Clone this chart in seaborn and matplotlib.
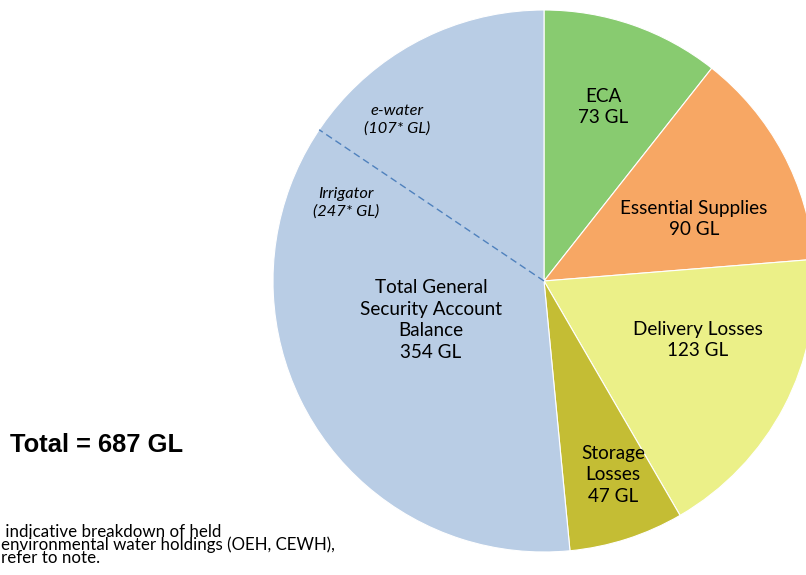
import matplotlib
matplotlib.use("Agg")
import matplotlib.pyplot as plt
import seaborn as sns
import numpy as np

sns.set_theme(style="white")
plt.rcParams['font.family'] = ['Lato', 'DejaVu Sans']
plt.rcParams['text.color'] = 'black'

# ---- data ----
categories = ["ECA", "Essential Supplies", "Delivery Losses", "Storage Losses",
              "Total General Security Account Balance"]
values = [73, 90, 123, 47, 354]
sub_categories = ["Irrigator", "e-water"]
sub_values = [247, 107]
total = 687
colors = ["#88CB70", "#F7A764", "#EBF088", "#C4BD34", "#B9CDE5"]
footnote = [" indicative breakdown of held",
            "environmental water holdings (OEH, CEWH),",
            "refer to note."]

W, H = 806, 575
fig = plt.figure(figsize=(W / 100, H / 100), dpi=100)
ax = fig.add_axes([0, 0, 1, 1])
ax.set_xlim(0, W)
ax.set_ylim(0, H)
ax.set_aspect("equal")
ax.axis("off")

cx, cy, r = 544, H - 281, 271
wedges, _ = ax.pie(values, colors=colors, startangle=90, counterclock=False,
                   center=(cx, cy), radius=r,
                   wedgeprops=dict(edgecolor="white", linewidth=0.8))
ax.set_xlim(0, W)
ax.set_ylim(0, H)

# dashed divider inside general security wedge
ang0 = sum(values[:4]) + sub_values[0]
theta = np.deg2rad(90 - ang0 / total * 360)
ax.plot([cx, cx + r * np.cos(theta)], [cy, cy + r * np.sin(theta)],
        ls=(0, (5, 3)), color="#4F81BD", lw=1.0)

fs = 13.6
def lab(x, y, s, size=fs, style="normal", ls=1.33):
    ax.text(x, H - y, s, ha="center", va="center", fontsize=size,
            style=style, linespacing=ls, color="black")

lab(603, 107, f"{categories[0]}\n{values[0]} GL")
lab(694, 219, f"{categories[1]}\n{values[1]} GL")
lab(698, 340, f"{categories[2]}\n{values[2]} GL")
lab(613, 475, f"Storage\nLosses\n{values[3]} GL")
lab(431, 320, f"Total General\nSecurity Account\nBalance\n{values[4]} GL")
lab(397, 120, f"{sub_categories[1]}\n({sub_values[1]}* GL)", size=11.8, style="italic", ls=1.28)
lab(346, 203, f"{sub_categories[0]}\n({sub_values[0]}* GL)", size=11.8, style="italic", ls=1.28)

ax.text(10, H - 445, f"Total = {total} GL", ha="left", va="center",
        fontsize=18.4, fontweight="bold", color="black",
        family=["Liberation Sans", "DejaVu Sans"])

ax.text(1, H - 545, "\n".join(footnote), ha="left", va="center",
        fontsize=12.2, linespacing=0.78, color="black")

fig.savefig("out.png", dpi=100)
